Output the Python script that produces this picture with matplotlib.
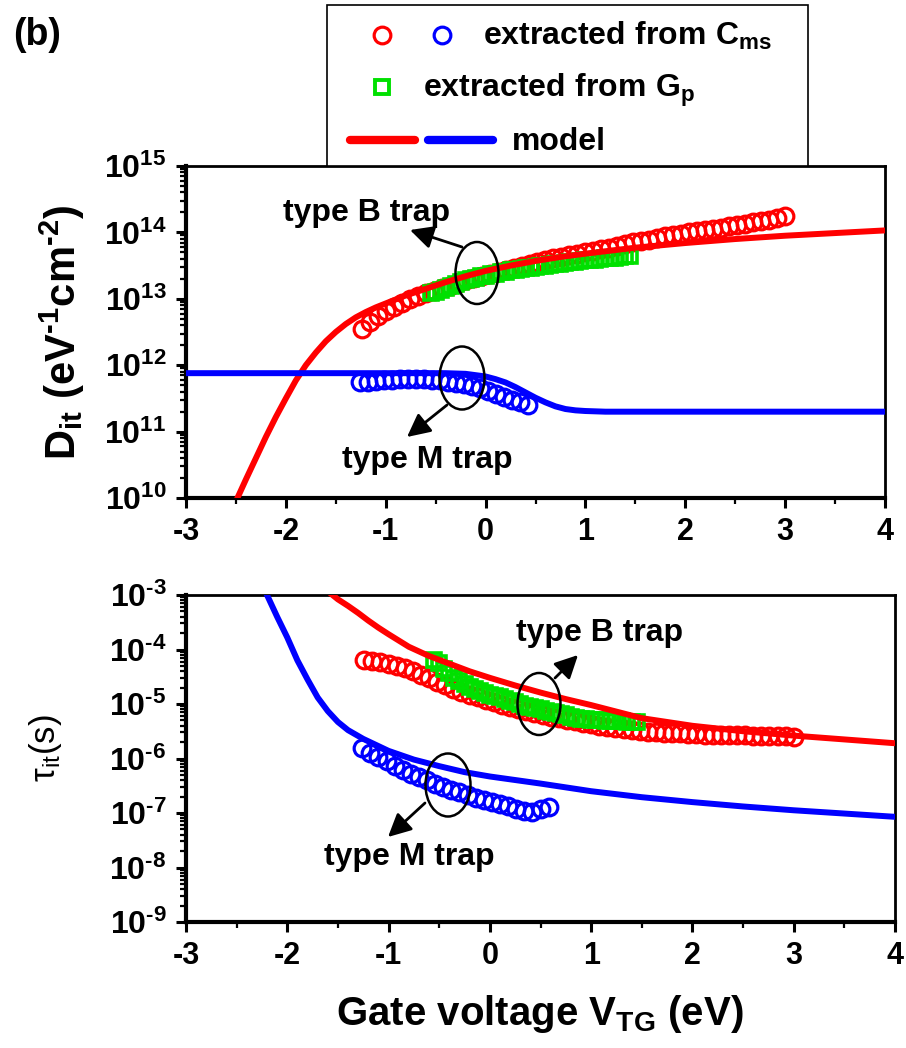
import numpy as np
import matplotlib
matplotlib.use('Agg')
import matplotlib.pyplot as plt
from matplotlib.patches import Ellipse, Rectangle, FancyArrowPatch
from matplotlib.lines import Line2D
from matplotlib.ticker import FixedLocator, LogLocator, NullFormatter, MultipleLocator, FuncFormatter

plt.rcParams['font.family'] = ['Liberation Sans', 'DejaVu Sans']
plt.rcParams['font.weight'] = 'bold'
plt.rcParams['axes.unicode_minus'] = False
plt.rcParams['mathtext.fontset'] = 'custom'
plt.rcParams['mathtext.rm'] = 'Liberation Sans'
plt.rcParams['mathtext.bf'] = 'Liberation Sans:bold'
plt.rcParams['mathtext.it'] = 'Liberation Sans:italic'

HY = '\u2010'   # short hyphen for exponents
TAU = '\u03c4'

# ---- data (exponents, log10 of value) ----
# points extracted from C_ms (red = type B, blue = type M)
v_cms_red = [-1.24, -1.16, -1.08, -1.00, -0.92, -0.84, -0.76, -0.68, -0.60, -0.52,
             -0.44, -0.36, -0.28, -0.20, -0.12, -0.04, 0.04, 0.12, 0.20, 0.28,
             0.36, 0.44, 0.52, 0.60, 0.68, 0.76, 0.84, 0.92, 1.00, 1.08,
             1.16, 1.24, 1.32, 1.40, 1.48, 1.56, 1.64, 1.72, 1.80, 1.88,
             1.96, 2.04, 2.12, 2.20, 2.28, 2.36, 2.44, 2.52, 2.60, 2.68,
             2.76, 2.84, 2.92, 3.00]
dit_cms_red = [12.55, 12.65, 12.74, 12.81, 12.88, 12.94, 12.99, 13.04, 13.08, 13.12,
               13.16, 13.20, 13.24, 13.28, 13.32, 13.35, 13.38, 13.41, 13.44, 13.47,
               13.50, 13.53, 13.56, 13.58, 13.61, 13.63, 13.66, 13.68, 13.70, 13.72,
               13.75, 13.77, 13.80, 13.82, 13.85, 13.87, 13.89, 13.92, 13.94, 13.96,
               13.98, 14.00, 14.02, 14.04, 14.05, 14.07, 14.09, 14.11, 14.13, 14.15,
               14.17, 14.19, 14.21, 14.24]
tau_cms_red = [-4.19, -4.21, -4.23, -4.26, -4.30, -4.34, -4.40, -4.46, -4.53, -4.60,
               -4.66, -4.72, -4.78, -4.83, -4.88, -4.93, -4.97, -5.01, -5.05, -5.09,
               -5.13, -5.17, -5.20, -5.23, -5.26, -5.29, -5.32, -5.35, -5.37, -5.40,
               -5.42, -5.44, -5.46, -5.48, -5.50, -5.51, -5.52, -5.53, -5.54, -5.54,
               -5.55, -5.55, -5.56, -5.56, -5.56, -5.57, -5.57, -5.57, -5.58, -5.58,
               -5.58, -5.59, -5.59, -5.60]

v_cms_blue = [-1.26, -1.18, -1.10, -1.02, -0.94, -0.86, -0.78, -0.70, -0.62, -0.54,
              -0.46, -0.38, -0.30, -0.22, -0.14, -0.06, 0.02, 0.10, 0.18, 0.26,
              0.34, 0.42, 0.50, 0.58]
dit_cms_blue = [11.74, 11.75, 11.76, 11.77, 11.78, 11.79, 11.79, 11.79, 11.79, 11.78,
                11.77, 11.75, 11.73, 11.71, 11.68, 11.65, 11.61, 11.57, 11.52, 11.48,
                11.44, 11.40]
tau_cms_blue = [-5.80, -5.89, -5.97, -6.05, -6.13, -6.21, -6.28, -6.34, -6.40, -6.46,
                -6.52, -6.57, -6.62, -6.67, -6.72, -6.76, -6.80, -6.84, -6.88, -6.92,
                -6.96, -6.98, -6.93, -6.89]

# points extracted from G_p
v_gp = [-0.55, -0.50, -0.45, -0.40, -0.35, -0.30, -0.25, -0.20, -0.15, -0.10,
        -0.05, 0.00, 0.05, 0.10, 0.15, 0.20, 0.25, 0.30, 0.35, 0.40,
        0.45, 0.50, 0.55, 0.60, 0.65, 0.70, 0.75, 0.80, 0.85, 0.90,
        0.95, 1.00, 1.05, 1.10, 1.15, 1.20, 1.25, 1.30, 1.35, 1.40, 1.45]
dit_gp = [13.08, 13.10, 13.13, 13.16, 13.19, 13.22, 13.25, 13.28, 13.30, 13.32,
          13.34, 13.35, 13.37, 13.38, 13.40, 13.41, 13.43, 13.44, 13.45, 13.46,
          13.47, 13.48, 13.49, 13.50, 13.51, 13.52, 13.53, 13.54, 13.55, 13.56,
          13.57, 13.58, 13.59, 13.59, 13.60, 13.61, 13.62, 13.62, 13.63, 13.64, 13.65]
tau_gp = [-4.20, -4.25, -4.35, -4.44, -4.52, -4.58, -4.64, -4.69, -4.73, -4.77,
          -4.80, -4.83, -4.86, -4.88, -4.91, -4.94, -4.97, -5.00, -5.03, -5.05,
          -5.08, -5.10, -5.13, -5.15, -5.17, -5.19, -5.21, -5.23, -5.25, -5.27,
          -5.28, -5.29, -5.30, -5.30, -5.31, -5.31, -5.32, -5.32, -5.33, -5.33, -5.33]

# model curves
v_dit_red_model = [-2.5, -2.4, -2.3, -2.2, -2.1, -2.0, -1.9, -1.8, -1.7, -1.6, -1.5, -1.4,
                   -1.3, -1.2, -1.1, -1.0, -0.8, -0.6, -0.4, -0.2, 0.0, 0.25, 0.5, 0.75,
                   1.0, 1.5, 2.0, 2.5, 3.0, 3.5, 4.0]
dit_red_model = [9.95, 10.28, 10.60, 10.92, 11.22, 11.50, 11.77, 12.00, 12.19, 12.36, 12.50,
                 12.62, 12.72, 12.80, 12.87, 12.93, 13.05, 13.15, 13.25, 13.34, 13.42,
                 13.50, 13.57, 13.63, 13.68, 13.77, 13.84, 13.90, 13.95, 13.99, 14.03]
v_dit_blue_model = [-3.0, -0.4, -0.2, -0.1, 0.0, 0.1, 0.2, 0.3, 0.4, 0.5, 0.6, 0.7, 0.8,
                    0.9, 1.0, 1.2, 4.0]
dit_blue_model = [11.88, 11.88, 11.87, 11.85, 11.83, 11.79, 11.74, 11.67, 11.59, 11.51,
                  11.44, 11.38, 11.34, 11.32, 11.31, 11.30, 11.30]
v_tau_red_model = [-1.6, -1.5, -1.4, -1.3, -1.2, -1.1, -1.0, -0.8, -0.6, -0.4, -0.2, 0.0,
                   0.25, 0.5, 0.75, 1.0, 1.5, 2.0, 2.5, 3.0, 3.5, 4.0]
tau_red_model = [-2.93, -3.08, -3.20, -3.33, -3.47, -3.60, -3.72, -3.95, -4.12, -4.26,
                 -4.40, -4.52, -4.66, -4.79, -4.91, -5.02, -5.26, -5.40, -5.50, -5.58,
                 -5.65, -5.72]
v_tau_blue_model = [-2.25, -2.2, -2.1, -2.0, -1.9, -1.8, -1.7, -1.6, -1.5, -1.4, -1.25,
                    -1.0, -0.75, -0.5, -0.25, 0.0, 0.5, 1.0, 1.5, 2.0, 2.5, 3.0, 3.5, 4.0]
tau_blue_model = [-2.82, -3.00, -3.40, -3.78, -4.20, -4.55, -4.88, -5.13, -5.33, -5.48,
                  -5.64, -5.86, -6.02, -6.14, -6.25, -6.33, -6.46, -6.60, -6.71, -6.80,
                  -6.88, -6.95, -7.01, -7.07]

x_ticks = [-3, -2, -1, 0, 1, 2, 3, 4]
dit_decades = [10, 11, 12, 13, 14, 15]
tau_decades = [-9, -8, -7, -6, -5, -4, -3]

W, H = 906, 1048
RED, BLUE, GREEN = '#ff0000', '#0000ff', '#00e000'


def fx(x):
    return x / W


def fy(y):
    return 1 - y / H


def p10(a):
    return 10.0 ** np.array(a)


def exp_label(e):
    s = str(e).replace('-', HY)
    return '$\\mathbf{10^{' + s + '}}$'


fig = plt.figure(figsize=(W / 100, H / 100), dpi=100)
ax1 = fig.add_axes([fx(186), fy(498), 699 / W, 332 / H])
ax2 = fig.add_axes([fx(186), fy(922), 709 / W, 327 / H])


def style(ax, decades):
    ax.set_yscale('log')
    ax.set_xlim(-3, 4)
    ax.set_ylim(10.0 ** decades[0], 10.0 ** decades[-1])
    ax.xaxis.set_major_locator(FixedLocator(x_ticks))
    ax.xaxis.set_minor_locator(MultipleLocator(0.5))
    ax.set_xticklabels([str(t) for t in x_ticks])
    ax.yaxis.set_major_locator(FixedLocator([10.0 ** d for d in decades]))
    ax.yaxis.set_major_formatter(FuncFormatter(lambda v, p: exp_label(int(round(np.log10(v))))))
    ax.yaxis.set_minor_locator(LogLocator(base=10, subs=np.arange(2, 10), numticks=20))
    ax.yaxis.set_minor_formatter(NullFormatter())
    ax.tick_params(which='major', direction='out', length=7, width=2.2, pad=7,
                   top=False, right=False)
    ax.tick_params(which='minor', direction='out', length=4, width=1.6,
                   top=False, right=False)
    ax.tick_params(axis='x', labelsize=22)
    ax.tick_params(axis='y', labelsize=23)
    for s in ['left', 'bottom']:
        ax.spines[s].set_linewidth(3)
    for s in ['top', 'right']:
        ax.spines[s].set_linewidth(2)


style(ax1, dit_decades)
style(ax2, tau_decades)

ms_c, mew_c = 12, 2.3
ms_s, mew_s = 9.5, 2.6

# top panel: D_it
ax1.plot(v_cms_red, p10(dit_cms_red), 'o', mfc='none', mec=RED, ms=ms_c, mew=mew_c, zorder=2)
ax1.plot(v_cms_blue[:len(dit_cms_blue)], p10(dit_cms_blue), 'o', mfc='none', mec=BLUE,
         ms=ms_c, mew=mew_c, zorder=2)
ax1.plot(v_gp, p10(dit_gp), 's', mfc='none', mec=GREEN, ms=ms_s, mew=mew_s, zorder=3)
ax1.plot(v_dit_red_model, p10(dit_red_model), '-', color=RED, lw=4.3, zorder=4)
ax1.plot(v_dit_blue_model, p10(dit_blue_model), '-', color=BLUE, lw=4.3, zorder=4)

# bottom panel: tau_it
ax2.plot(v_cms_red, p10(tau_cms_red), 'o', mfc='none', mec=RED, ms=ms_c, mew=mew_c, zorder=2)
ax2.plot(v_cms_blue, p10(tau_cms_blue), 'o', mfc='none', mec=BLUE, ms=ms_c, mew=mew_c, zorder=2)
ax2.plot(v_gp, p10(tau_gp), 's', mfc='none', mec=GREEN, ms=ms_s, mew=mew_s, zorder=3)
ax2.plot(v_tau_red_model, p10(tau_red_model), '-', color=RED, lw=4.3, zorder=4)
ax2.plot(v_tau_blue_model, p10(tau_blue_model), '-', color=BLUE, lw=4.3, zorder=4)

# labels
fig.text(fx(62), fy(332), '$\\mathbf{D_{it}\\ (eV^{' + HY + '1}cm^{' + HY + '2})}$',
         rotation=90, ha='center', va='center', fontsize=30)
fig.text(fx(45), fy(748), '$\\mathregular{' + TAU + '_{it}(s)}$', rotation=90,
         ha='center', va='center', fontsize=25, fontweight='normal')
fig.text(fx(540), fy(1025), 'Gate voltage V$_{\\mathbf{TG}}$ (eV)', ha='center',
         va='baseline', fontsize=29)
fig.text(fx(13), fy(35), '(b)', ha='left', va='center', fontsize=27)


# annotations: ellipses, arrows, text (positions in figure pixels)
def ellipse(cx, cy, w, h):
    fig.add_artist(Ellipse((fx(cx), fy(cy)), w / W, h / H, transform=fig.transFigure,
                           fill=False, ec='k', lw=1.8, zorder=6))


def arrow(tx, ty, hx, hy):
    fig.add_artist(FancyArrowPatch((fx(tx), fy(ty)), (fx(hx), fy(hy)),
                                   transform=fig.transFigure,
                                   arrowstyle='-|>,head_length=0.7,head_width=0.35',
                                   lw=2, color='k', shrinkA=0, shrinkB=0,
                                   mutation_scale=20, zorder=6))


ellipse(477, 273, 43, 62)
arrow(462, 247, 410, 230)
fig.text(fx(367), fy(213), 'type B trap', ha='center', va='center', fontsize=23)
ellipse(462, 378, 45, 63)
arrow(447, 405, 407, 437)
fig.text(fx(427), fy(460), 'type M trap', ha='center', va='center', fontsize=23)

ellipse(539, 704, 43, 62)
arrow(555, 678, 578, 655)
fig.text(fx(600), fy(633), 'type B trap', ha='center', va='center', fontsize=23)
ellipse(448, 785, 45, 63)
arrow(425, 803, 388, 837)
fig.text(fx(409), fy(857), 'type M trap', ha='center', va='center', fontsize=23)

# legend box drawn by hand
fig.add_artist(Rectangle((fx(327), fy(166)), 481 / W, 161 / H, transform=fig.transFigure,
                         fill=True, fc='white', ec='k', lw=1.2, zorder=5))


def leg_marker(x, y, marker, color, ms, mew):
    fig.add_artist(Line2D([fx(x)], [fy(y)], marker=marker, mfc='none', mec=color, ms=ms,
                          mew=mew, ls='none', transform=fig.transFigure, zorder=6))


def leg_line(x0, x1, y, color):
    fig.add_artist(Line2D([fx(x0), fx(x1)], [fy(y), fy(y)], color=color, lw=6,
                          solid_capstyle='round', transform=fig.transFigure, zorder=6))


leg_marker(382, 35, 'o', RED, 12, 2.3)
leg_marker(442, 35, 'o', BLUE, 12, 2.3)
fig.text(fx(483), fy(45), '$\\mathbf{extracted\\ from\\ C_{ms}}$', ha='left', va='baseline',
         fontsize=23, zorder=7)
leg_marker(382, 87, 's', GREEN, 10, 2.8)
fig.text(fx(423), fy(97), '$\\mathbf{extracted\\ from\\ G_{p}}$', ha='left', va='baseline',
         fontsize=23, zorder=7)
leg_line(350, 415, 140, RED)
leg_line(428, 493, 140, BLUE)
fig.text(fx(512), fy(150), 'model', ha='left', va='baseline', fontsize=23, zorder=7)

fig.savefig('out.png', dpi=100)
